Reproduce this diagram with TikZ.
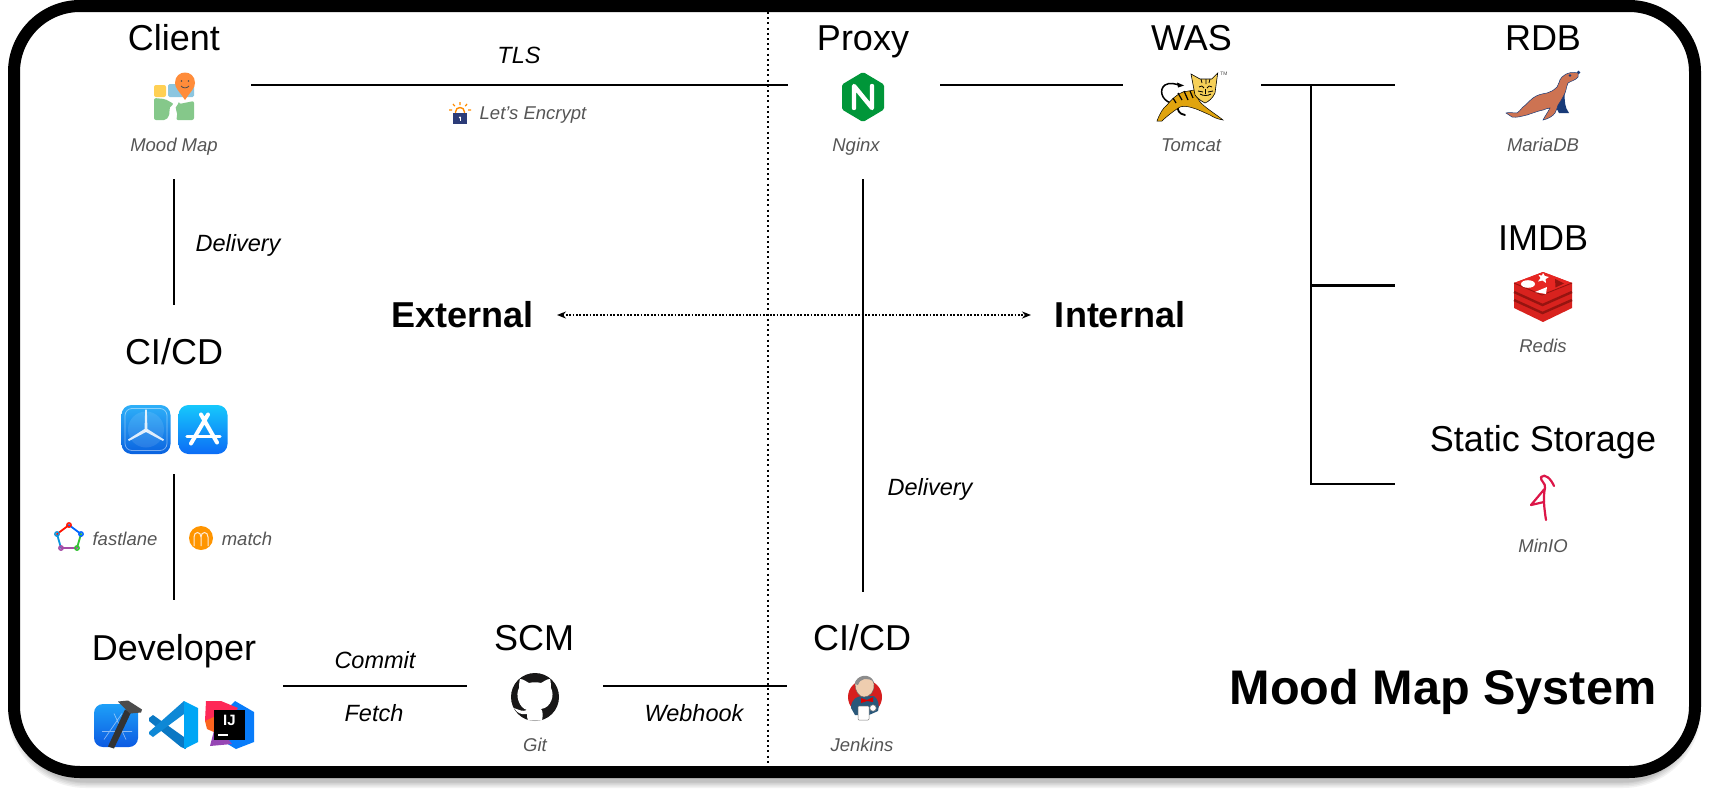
\documentclass[tikz,border=0pt]{standalone}
\usepackage{fontspec}
\setmainfont{Liberation Sans}
\usetikzlibrary{arrows.meta}
\definecolor{sub}{HTML}{555555}
\definecolor{gitblack}{RGB}{24,23,23}
\definecolor{mariablue}{RGB}{24,58,120}
\definecolor{mariabody}{RGB}{205,115,82}
\definecolor{redisside}{RGB}{216,34,30}
\definecolor{redistop}{RGB}{230,38,34}
\definecolor{redisseam}{RGB}{150,20,16}
\definecolor{minio}{RGB}{220,22,72}
\tikzset{
 titletext/.style={anchor=base,inner sep=0pt,font=\fontsize{36}{40}\selectfont},
 sublabel/.style={anchor=base,inner sep=0pt,text=sub,font=\fontsize{18.5}{22}\selectfont\itshape},
 edgelabel/.style={anchor=base,inner sep=0pt,font=\fontsize{23.5}{28}\selectfont\itshape},
 zonetext/.style={anchor=base,inner sep=0pt,font=\fontsize{36}{40}\selectfont\bfseries},
 link/.style={line width=2.2pt},
 shadowring/.style={rounded corners=66pt,draw=black,opacity=0.05}
}
\begin{document}
\begin{tikzpicture}[x=1pt,y=-1pt]
\useasboundingbox (0,0) rectangle (1709,795);
\fill[white] (0,0) rectangle (1709,795);
% shadow
\foreach \w in {24,21,18,15,13} {
  \draw[shadowring,line width=\w pt] (20,12) rectangle (1689,776);
}
% frame
\draw[line width=12pt,rounded corners=66pt,fill=white] (14,6) rectangle (1695,772);

% ---------- named connector ends
\coordinate (tlsA) at (251,85);   \coordinate (tlsB) at (788,85);
\coordinate (pwA) at (940,85);    \coordinate (pwB) at (1123,85);
\coordinate (wrA) at (1261,85);   \coordinate (wrB) at (1395,85);
\coordinate (jn1) at (1311,85);   \coordinate (jn2) at (1311,285.5);
\coordinate (jn3) at (1311,484);  \coordinate (imEnd) at (1395,285.5);
\coordinate (stEnd) at (1395,484);
\coordinate (dlA) at (174,179);   \coordinate (dlB) at (174,305);
\coordinate (flA) at (174,474);   \coordinate (flB) at (174,600);
\coordinate (cmA) at (283,686);   \coordinate (cmB) at (467,686);
\coordinate (wbA) at (603,686);   \coordinate (wbB) at (787,686);
\coordinate (drA) at (863,179);   \coordinate (drB) at (863,592);
\coordinate (divA) at (768,12);   \coordinate (divB) at (768,767);
\coordinate (arA) at (557,315);   \coordinate (arB) at (1031,315);

% ---------- connectors
\draw[line width=2pt,dash pattern=on 2pt off 3.2pt] (divA) -- (divB);
\draw[link] (tlsA) -- (tlsB);
\draw[link] (pwA) -- (pwB);
\draw[link] (wrA) -- (wrB);
\draw[link] (jn1) -- (jn3) -- (stEnd);
\draw[link] (jn2) -- (imEnd);
\draw[link] (dlA) -- (dlB);
\draw[link] (flA) -- (flB);
\draw[link] (cmA) -- (cmB);
\draw[link] (wbA) -- (wbB);
\draw[link] (drA) -- (drB);
\draw[line width=1.7pt,dash pattern=on 1.7pt off 1.7pt,{Stealth[length=9pt,width=7pt]}-{Stealth[length=9pt,width=7pt]}] (arA) -- (arB);

% ---------- titles
\node[titletext] (tClient) at (174,50) {Client};
\node[titletext] (tProxy) at (863,50) {Proxy};
\node[titletext] (tWas) at (1191.5,50) {WAS};
\node[titletext] (tRdb) at (1543,50) {RDB};
\node[titletext] (tImdb) at (1543,250) {IMDB};
\node[titletext] (tStatic) at (1543,451) {Static Storage};
\node[titletext] (tCicdL) at (174,364) {CI/CD};
\node[titletext] (tCicdR) at (862,650) {CI/CD};
\node[titletext] (tDev) at (174,660) {Developer};
\node[titletext] (tScm) at (534,650) {SCM};

% ---------- sub labels
\node[sublabel] (sMood) at (174,151.5) {Mood Map};
\node[sublabel] (sNginx) at (856,151.5) {Nginx};
\node[sublabel] (sTomcat) at (1191,151.5) {Tomcat};
\node[sublabel] (sMaria) at (1543,151.5) {MariaDB};
\node[sublabel] (sRedis) at (1543,352) {Redis};
\node[sublabel] (sMinio) at (1543,552) {MinIO};
\node[sublabel] (sGit) at (535,751.5) {Git};
\node[sublabel] (sJenkins) at (862,751.5) {Jenkins};
\node[sublabel] (sLe) at (533,119) {Let’s Encrypt};
\node[sublabel] (sFast) at (125,545) {fastlane};
\node[sublabel] (sMatch) at (247,545) {match};

% ---------- edge labels
\node[edgelabel] (eTls) at (519,63) {TLS};
\node[edgelabel] (eDelL) at (238,251) {Delivery};
\node[edgelabel] (eDelR) at (930,495) {Delivery};
\node[edgelabel] (eCommit) at (375,668) {Commit};
\node[edgelabel] (eFetch) at (374,721) {Fetch};
\node[edgelabel] (eHook) at (694,721) {Webhook};

% ---------- big labels
\node[zonetext] (zExt) at (462.5,327) {External};
\node[zonetext] (zInt) at (1120,327) {Internal};
\node[anchor=base,inner sep=0pt,font=\fontsize{48.6}{54}\selectfont\bfseries] (sysTitle) at (1443,704) {Mood Map System};

% ---------- Mood Map icon
\begin{scope}[shift={(174,97)}]
 \fill[rounded corners=2pt,fill={rgb,255:red,255;green,208;blue,84}] (-20,-12) rectangle (-8,0);
 \fill[rounded corners=1.5pt,fill={rgb,255:red,140;green,198;blue,224}] (-6,-13) rectangle (20,0);
 \fill[rounded corners=2pt,fill={rgb,255:red,133;green,200;blue,138}] (-20,1) -- (-9,2) -- (0,7) .. controls (-7,11) and (-2,15) .. (-8,23) -- (-20,23) -- cycle;
 \fill[rounded corners=2pt,fill={rgb,255:red,133;green,200;blue,138}] (5,7) -- (20,4) -- (20,23) -- (2,23) .. controls (5,15) and (-1,11) .. (5,7) -- cycle;
 \fill[fill={rgb,255:red,255;green,140;blue,58}] (11,3) .. controls (5,-6) and (1,-9) .. (1,-14) .. controls (1,-28) and (21,-28) .. (21,-14) .. controls (21,-9) and (17,-6) .. (11,3) -- cycle;
 \fill[black!70] (7.5,-16) circle (0.9pt) (14.5,-16) circle (0.9pt);
 \draw[black!70,line width=0.8pt] (7,-11) .. controls (9,-8.5) and (13,-8.5) .. (15,-11);
\end{scope}

% ---------- Let's Encrypt icon
\begin{scope}[shift={(460,113)}]
 \draw[line width=1.4pt,orange!90!yellow] (-4.5,3) -- (-4.5,-1) .. controls (-4.5,-7) and (4.5,-7) .. (4.5,-1) -- (4.5,3);
 \draw[line width=1.2pt,orange!90!yellow] (0,-11) -- (0,-8) (-7,-9) -- (-5.2,-6.8) (7,-9) -- (5.2,-6.8) (-11,-3) -- (-8,-3) (11,-3) -- (8,-3);
 \fill[fill={rgb,255:red,44;green,60;blue,120}] (-7,0) rectangle (7,11);
 \fill[white] (0,4.5) circle (1.2pt);
 \fill[white] (-0.5,4.5) rectangle (0.5,8);
\end{scope}

% ---------- Nginx icon
\begin{scope}[shift={(863,97)}]
 \fill[fill={rgb,255:red,0;green,150;blue,57},rounded corners=1.5pt] (0,-25) -- (21,-12.5) -- (21,12.5) -- (0,25) -- (-21,12.5) -- (-21,-12.5) -- cycle;
 \draw[white,line width=4.4pt,line cap=round,line join=round] (-9,11) -- (-9,-11) -- (9,11) -- (9,-11);
\end{scope}

% ---------- Tomcat icon
\begin{scope}[shift={(1191,97)}]
 % tail
 \draw[black,line width=1.5pt] (-20,6) .. controls (-30,3) and (-32,-8) .. (-26,-12) .. controls (-21,-15) and (-16,-13) .. (-12,-12);
 \fill[black] (-14,-14.5) -- (-7,-11.5) -- (-13,-9.5) -- cycle;
 % hind leg shadow
 \draw[black,line width=1.8pt,line cap=round] (-13,9) .. controls (-14,13) and (-12,17) .. (-6,18);
 % body
 \fill[fill={rgb,255:red,224;green,164;blue,14},draw=black,line width=0.5pt] (-34,24) .. controls (-31,16) and (-28,11) .. (-24,8) .. controls (-20,3) and (-14,-3) .. (-8,-5) -- (3,-7) .. controls (6,0) and (8,4) .. (10,6) .. controls (16,12) and (26,18) .. (32,23) .. controls (26,22) and (22,20) .. (19,18) .. controls (12,15) and (6,12) .. (2,11) .. controls (-4,9) and (-8,9) .. (-11,10) .. controls (-16,13) and (-24,19) .. (-29,24) -- cycle;
 % stripes
 \draw[black,line width=1.2pt] (-13,-4) -- (-9,3) (-7,-6) -- (-3,3) (-1,-6) -- (2,1) (-18,1) -- (-15,6);
 % head
 \fill[fill={rgb,255:red,246;green,208;blue,88},draw=black,line width=0.6pt] (0,-23) -- (9,-18) -- (20.7,-18) -- (26.7,-24) -- (24,-4) .. controls (22,1) and (17,5) .. (14,6) .. controls (10,4) and (6,1) .. (4,-2) -- cycle;
 \draw[black,line width=0.8pt] (10,-18) -- (11,-14) (15,-18) -- (15,-13) (19,-18) -- (18,-14) (8,-10) .. controls (10,-12) and (12,-11) .. (13,-9) (21,-10) .. controls (19,-12) and (17,-11) .. (16,-9) (14.5,-8) -- (14.5,-3) (9,-3) .. controls (12,-1) and (17,-1) .. (20,-3) (7,-6) -- (12,-5) (22,-6) -- (17,-5);
 \node[inner sep=0pt,text=black!70,font=\fontsize{5}{5}\selectfont] (tm) at (33,-23) {TM};
\end{scope}

% ---------- MariaDB seal
\begin{scope}[shift={(1543,96)}]
 \fill[fill=mariablue] (22,-6) .. controls (21,4) and (22,12) .. (26,17) -- (16,17) -- (10,6) -- cycle;
 \fill[fill=mariablue] (35.5,-23.5) circle (1.8pt);
 \fill[fill=mariabody,draw=mariablue,line width=0.5pt]
  (35,-23) .. controls (30,-24) and (24,-24) .. (19,-19) .. controls (15,-15) and (17,-12) .. (14,-9)
  .. controls (10,-5) and (7,-4) .. (4,-3) .. controls (-2,-2) and (-6,-1) .. (-10,2)
  .. controls (-14,5) and (-17,9) .. (-20,11) .. controls (-23,14) and (-24,16) .. (-26,17)
  .. controls (-30,17) and (-34,16) .. (-37,17) -- (-31,21)
  .. controls (-26,22) and (-21,20) .. (-16,19) .. controls (-10,17) and (-5,15) .. (0,14)
  .. controls (3,13) and (5,12) .. (7,12) .. controls (5,16) and (2,20) .. (0,24)
  .. controls (5,23) and (10,20) .. (12,17) .. controls (14,14) and (14,11) .. (15,9)
  .. controls (18,5) and (20,1) .. (22,-3) .. controls (24,-8) and (23,-10) .. (25,-13)
  .. controls (28,-15) and (33,-16) .. (35,-19) -- cycle;
 \fill[fill=mariablue] (27,-20.5) circle (1.3pt);
\end{scope}

% ---------- Redis
\begin{scope}[shift={(1543,297)}]
 \fill[fill=redisside] (-29,-14) -- (0,-25) -- (29,-14) -- (29,11) -- (0,25) -- (-29,11) -- cycle;
 \draw[redisseam,line width=2.4pt] (-29,-5) -- (-0.5,8) -- (29,-5);
 \draw[redisseam,line width=2.4pt] (-29,3) -- (-0.5,16) -- (29,3);
 \fill[fill=redistop] (-29,-14) -- (0,-25) -- (29,-14) -- (-1,-2) -- cycle;
 \draw[redisseam,line width=0.9pt] (-29,-14) -- (-1,-2) -- (29,-14);
 \fill[white] (-15,-13) ellipse (7pt and 3.8pt);
 \fill[white] (0,-24) -- (1.8,-21) -- (6,-20) -- (2.5,-17.8) -- (3,-14) -- (-0.5,-16.5) -- (-5,-15.5) -- (-2.5,-19) -- (-4.5,-22) -- (-1,-21.5) -- cycle;
 \fill[white] (-8,-5) -- (4,-10) -- (3,-3) -- cycle;
 \fill[fill=redisseam] (12,-18) -- (21,-13.5) -- (12.5,-9.5) -- cycle;
\end{scope}

% ---------- MinIO bird
\begin{scope}[shift={(1543,497)}]
 \draw[line width=2.2pt,line cap=round,line join=round,draw=minio]
  (3,23) .. controls (1,10) and (0,0) .. (2,-9) .. controls (3,-14) and (-3,-16) .. (-2,-20) .. controls (2,-24) and (8,-18) .. (11,-11);
 \draw[line width=2.2pt,line cap=round,line join=round,draw=minio]
  (1.5,-8) -- (-12,8) -- (1,5);
\end{scope}

% ---------- TestFlight
\begin{scope}[shift={(146,429.5)}]
 \shade[top color={rgb,255:red,46;green,176;blue,248},bottom color={rgb,255:red,10;green,98;blue,224},rounded corners=10pt] (-24.5,-24.5) rectangle (24.5,24.5);
 \draw[rounded corners=7pt,white,opacity=0.45,line width=0.8pt] (-21,-21) rectangle (21,21);
 \fill[white,opacity=0.1] (0,0) circle (18pt);
 \fill[white,opacity=0.85] (-1.5,1) -- (-0.8,-20) -- (0.8,-20) -- (1.5,1) -- cycle;
 \fill[white,opacity=0.85] (-1.5,-0.5) -- (-18,10) -- (-17,11.5) -- (1,2) -- cycle;
 \fill[white,opacity=0.85] (1.5,-0.5) -- (18,10) -- (17,11.5) -- (-1,2) -- cycle;
\end{scope}

% ---------- App Store
\begin{scope}[shift={(203,429.5)}]
 \shade[top color={rgb,255:red,22;green,200;blue,252},bottom color={rgb,255:red,12;green,108;blue,246},rounded corners=10pt] (-24.5,-24.5) rectangle (24.5,24.5);
 \draw[white,line width=4pt,line cap=round] (-2,-15) -- (14,13) (5,-15) -- (-12,14);
 \draw[white,line width=3.4pt,line cap=round] (-16,7) -- (17,7);
\end{scope}

% ---------- fastlane
\begin{scope}[shift={(69,538)}]
 \draw[line width=1.8pt,line cap=round,cyan!80!blue] (-8,10) -- (-12,-4);
 \draw[line width=1.8pt,line cap=round,red!85!orange] (-12,-4) -- (0,-13);
 \draw[line width=1.8pt,line cap=round,blue!60!cyan] (0,-13) -- (12,-4);
 \draw[line width=1.8pt,line cap=round,green!70!black!80!white] (12,-4) -- (8,10);
 \draw[line width=1.8pt,line cap=round,violet!70!white] (8,10) -- (-8,10);
 \draw[red!85!orange,line width=1.4pt] (0,-13) circle (2.2pt);
 \draw[blue!60!cyan,line width=1.4pt] (12,-4) circle (2.2pt);
 \draw[green!70!black!80!white,line width=1.4pt] (8,10) circle (2.2pt);
 \draw[violet!70!white,line width=1.4pt] (-8,10) circle (2.2pt);
 \draw[cyan!80!blue,line width=1.4pt] (-12,-4) circle (2.2pt);
\end{scope}

% ---------- match
\begin{scope}[shift={(201,538)}]
 \fill[fill={rgb,255:red,255;green,149;blue,0}] (0,0) circle (12pt);
 \draw[white!85!orange,line width=1pt] (-7,8) -- (-7,-1) .. controls (-7,-7) and (0,-7) .. (0,-1) -- (0,8) (0,-1) .. controls (0,-7) and (7,-7) .. (7,-1) -- (7,8);
\end{scope}

% ---------- Xcode
\begin{scope}[shift={(116,725.5)}]
 \shade[top color={rgb,255:red,30;green,160;blue,248},bottom color={rgb,255:red,12;green,90;blue,226},rounded corners=9pt] (-22,-21.5) rectangle (22,21.5);
 \draw[white,opacity=0.5,line width=0.7pt] (-2,-12) -- (10,14) (6,-12) -- (-12,14) (-14,6) -- (16,6);
 \fill[black!80] (-8,21) -- (-2,23) -- (15,-13) -- (9,-16) -- cycle;
 \fill[black!70] (2,-24) -- (12,-25) -- (26,-16) -- (25,-13) -- (14,-12) -- (8,-18) -- cycle;
\end{scope}

% ---------- VS Code
\begin{scope}[shift={(173,725)}]
 \fill[fill={rgb,255:red,10;green,120;blue,196}] (-24,-7) -- (-20,-10) -- (11,12) -- (13,24) -- (8,22) -- (-24,-4) -- cycle;
 \fill[fill={rgb,255:red,14;green,136;blue,214}] (11,-24) -- (-24,7) -- (-24,9) -- (-20,12) -- (11,-11) -- (14,-18) -- cycle;
 \fill[fill={rgb,255:red,0;green,166;blue,245}] (11,-24) -- (25,-17) -- (25,17) -- (11,24) -- cycle;
\end{scope}

% ---------- IntelliJ
\begin{scope}[shift={(230,725)}]
 \fill[fill={rgb,255:red,8;green,124;blue,250}] (5,-24) -- (24,-13) -- (24,17) -- (6,24) -- (-9,15) -- (-4,-15) -- cycle;
 \fill[fill={rgb,255:red,254;green,40;blue,87}] (-24,-24) -- (-9,-24) -- (8,-17) -- (-4,0) -- (-25,-4) -- cycle;
 \fill[fill={rgb,255:red,252;green,100;blue,30}] (-25,-4) -- (-14,-9) -- (-14,8) -- (-23,4) -- cycle;
 \fill[fill={rgb,255:red,150;green,70;blue,180}] (-20,21) -- (-14,-2) -- (2,19) -- cycle;
 \fill[black] (-16,-15) rectangle (15,15);
 \node[inner sep=0pt,text=white,font=\fontsize{15}{16}\selectfont\bfseries] (ijText) at (-0.5,-5) {IJ};
 \fill[white] (-12,9) rectangle (-2,10.8);
\end{scope}

% ---------- GitHub
\begin{scope}[shift={(535,697)}]
 \fill[fill=gitblack] (0,0) circle (24pt);
 \fill[white] (-15,-18) .. controls (-11,-18) and (-9,-15) .. (-6,-14) .. controls (-2,-15) and (2,-15) .. (6,-14) .. controls (9,-15) and (11,-18) .. (15,-18)
   .. controls (16,-14) and (16,-11) .. (16,-9) .. controls (20,-2) and (16,11) .. (6,12) .. controls (8,14) and (8,18) .. (7,23.5) -- (-7,23.5) .. controls (-8,21) and (-8,19) .. (-8,17)
   .. controls (-14,18) and (-18,16) .. (-21,11) .. controls (-16,13) and (-12,15) .. (-8,13)
   .. controls (-16,11) and (-20,-2) .. (-16,-9) .. controls (-16,-11) and (-16,-14) .. (-15,-18) -- cycle;
\end{scope}

% ---------- Jenkins
\begin{scope}[shift={(865,697)}]
 \fill[fill={rgb,255:red,214;green,30;blue,30}] (0,0) circle (17pt);
 \fill[fill={rgb,255:red,42;green,88;blue,122}] (-14,11) .. controls (-14,2) and (-8,-1) .. (-2,-1) -- (9,-1) .. controls (13,2) and (15,8) .. (13,14) -- (4,18) -- (-10,18) -- cycle;
 \fill[fill={rgb,255:red,238;green,205;blue,175},draw=black!60,line width=0.4pt] (-10,-13) .. controls (-9,-22) and (7,-24) .. (9,-13) .. controls (10,-6) and (5,0) .. (-1,0) .. controls (-6,0) and (-10,-6) .. (-10,-13) -- cycle;
 \fill[black!45] (-10,-13) .. controls (-9,-22) and (5,-25) .. (9,-15) .. controls (3,-20) and (-5,-19) .. (-7,-12) -- cycle;
 \fill[red!85!black] (-4,1) -- (2,3) -- (8,0) -- (8,5) -- (2,4) -- (-4,6) -- cycle;
 \fill[white,draw=black!50,line width=0.5pt,rounded corners=1pt] (-7,9) rectangle (4,23);
 \fill[white,draw=black!50,line width=0.5pt] (8,11) circle (3.2pt);
\end{scope}
\end{tikzpicture}
\end{document}
